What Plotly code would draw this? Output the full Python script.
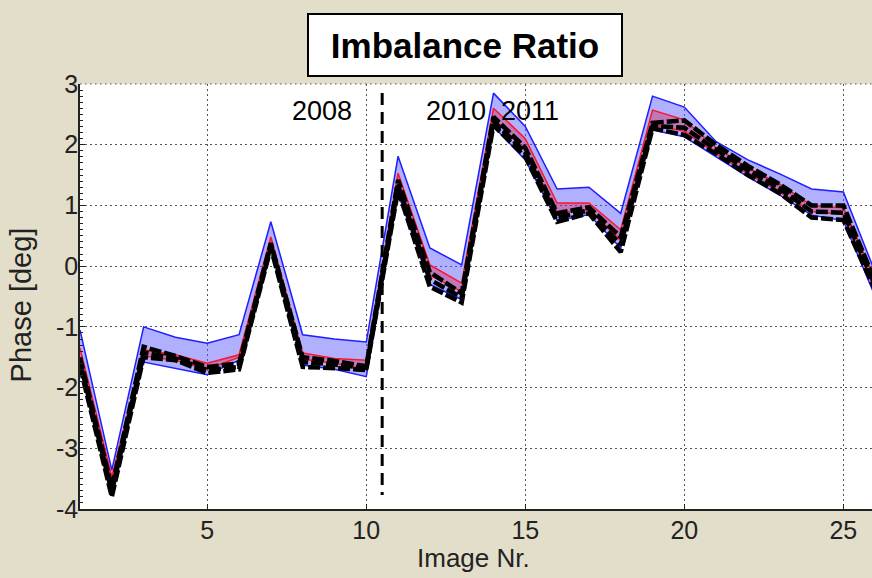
import plotly.graph_objects as go

# Image index (x axis)
image_nr = list(range(1, 27))

# Outer (blue) band limits, phase in degrees
blue_upper = [-1.05, -3.36, -1.00, -1.17, -1.27, -1.13, 0.73, -1.13, -1.20, -1.25,
              1.81, 0.30, 0.02, 2.85, 2.30, 1.27, 1.30, 0.87, 2.80, 2.62,
              2.05, 1.75, 1.52, 1.27, 1.22, -0.10]
blue_lower = [-1.65, -3.60, -1.58, -1.68, -1.79, -1.55, 0.30, -1.63, -1.70, -1.82,
              1.20, -0.30, -0.55, 2.30, 1.75, 0.75, 0.85, 0.30, 2.24, 2.13,
              1.80, 1.47, 1.17, 0.84, 0.75, -0.50]

# Inner (red) band limits
red_upper = [-1.35, -3.47, -1.38, -1.46, -1.60, -1.46, 0.48, -1.43, -1.52, -1.55,
             1.53, 0.02, -0.28, 2.60, 2.10, 1.04, 1.04, 0.60, 2.57, 2.41,
             1.95, 1.62, 1.35, 1.00, 0.96, -0.20]
red_lower = [-1.55, -3.55, -1.48, -1.55, -1.70, -1.50, 0.38, -1.53, -1.60, -1.70,
             1.35, -0.15, -0.42, 2.42, 1.90, 0.88, 0.92, 0.42, 2.33, 2.22,
             1.85, 1.52, 1.22, 0.90, 0.85, -0.40]

# Measured phase series (dashed black)
meas_a = [-1.50, -3.65, -1.33, -1.48, -1.66, -1.60, 0.38, -1.50, -1.56, -1.65,
          1.42, -0.10, -0.45, 2.46, 1.95, 0.87, 0.97, 0.48, 2.36, 2.40,
          2.00, 1.65, 1.35, 1.00, 1.00, -0.25]
meas_b = [-1.65, -3.80, -1.50, -1.55, -1.76, -1.70, 0.30, -1.66, -1.68, -1.71,
          1.25, -0.34, -0.60, 2.32, 1.80, 0.73, 0.87, 0.23, 2.27, 2.16,
          1.85, 1.50, 1.20, 0.80, 0.76, -0.40]
meas_c = [-1.58, -3.72, -1.42, -1.52, -1.71, -1.66, 0.34, -1.58, -1.62, -1.68,
          1.33, -0.22, -0.52, 2.39, 1.87, 0.80, 0.92, 0.35, 2.31, 2.28,
          1.92, 1.58, 1.28, 0.90, 0.88, -0.32]

# Separator between campaigns and the year labels
separator_x = [10.5, 10.5]
separator_y = [2.85, -3.77]
year_labels = ["2008", "2010", "2011"]
year_x = [8.61, 12.82, 15.15]
year_y = [2.55, 2.55, 2.55]

title_text = "Imbalance Ratio"
x_title = "Image Nr."
y_title = "Phase [deg]"
x_ticks = [5, 10, 15, 20, 25]
y_ticks = [-4, -3, -2, -1, 0, 1, 2, 3]
y_tick_text = ["-4", "-3", "-2", "-1", "0", "1", "2", "3"]

BG = "#E2DECA"
TEXT_COLOR = "#222"
TICK_FONT = dict(family="Liberation Sans Narrow, Liberation Sans, Arial", size=25, color=TEXT_COLOR)

fig = go.Figure()

# Blue band
fig.add_trace(go.Scatter(x=image_nr, y=blue_lower, mode="lines",
                         line=dict(color="rgb(30,30,255)", width=1.5), showlegend=False))
fig.add_trace(go.Scatter(x=image_nr, y=blue_upper, mode="lines", fill="tonexty",
                         fillcolor="rgba(80,80,255,0.45)",
                         line=dict(color="rgb(30,30,255)", width=1.5), showlegend=False))
# Red band
fig.add_trace(go.Scatter(x=image_nr, y=red_lower, mode="lines",
                         line=dict(color="rgb(255,20,40)", width=1.5), showlegend=False))
fig.add_trace(go.Scatter(x=image_nr, y=red_upper, mode="lines", fill="tonexty",
                         fillcolor="rgba(230,0,40,0.32)",
                         line=dict(color="rgb(255,20,40)", width=1.5), showlegend=False))
# Dashed measurement lines
for series in (meas_a, meas_c, meas_b):
    fig.add_trace(go.Scatter(x=image_nr, y=series, mode="lines",
                             line=dict(color="black", width=4.5, dash="12px,3px"),
                             showlegend=False))
# Vertical separator
fig.add_trace(go.Scatter(x=separator_x, y=separator_y, mode="lines",
                         line=dict(color="black", width=3, dash="12px,7px"),
                         showlegend=False))

for txt, xv, yv in zip(year_labels, year_x, year_y):
    fig.add_annotation(x=xv, y=yv, xref="x", yref="y", text=txt, showarrow=False,
                       xanchor="center", yanchor="middle",
                       font=dict(family="Liberation Sans, Arial", size=27, color="black"))

# Boxed title
fig.add_annotation(x=0.486, y=1.092, xref="paper", yref="paper", text="<b>" + title_text + "</b>",
                   showarrow=False, xanchor="center", yanchor="middle",
                   bgcolor="white", bordercolor="black", borderwidth=2,
                   borderpad=0, width=312, height=60,
                   font=dict(family="Liberation Sans, Arial", size=35, color="black"))

# Axis titles
fig.add_annotation(x=0.497, y=-0.115, xref="paper", yref="paper", text=x_title, showarrow=False,
                   xanchor="center", yanchor="middle",
                   font=dict(family="Liberation Sans Narrow, Liberation Sans, Arial", size=26,
                             color=TEXT_COLOR))
fig.add_annotation(x=-0.074, y=0.48, xref="paper", yref="paper", text=y_title, showarrow=False,
                   xanchor="center", yanchor="middle", textangle=-90,
                   font=dict(family="Liberation Sans, Arial", size=29, color=TEXT_COLOR))

# Dotted line along the top of the plot area
fig.add_shape(type="line", xref="paper", yref="paper", x0=0, x1=1, y0=1, y1=1,
              line=dict(color="#555", width=1.2, dash="1.5px,3.5px"))

grid = dict(showgrid=True, gridcolor="#555", gridwidth=1.2, griddash="1.5px,3.5px")

fig.update_xaxes(range=[1, 25.9], tickvals=x_ticks, ticks="inside", ticklen=5,
                 tickcolor=TEXT_COLOR, showline=True, linecolor=TEXT_COLOR, linewidth=1.5,
                 zeroline=False, tickfont=TICK_FONT, ticklabelstandoff=-2, **grid)
fig.update_yaxes(range=[-4, 3], tickvals=y_ticks, ticktext=y_tick_text, ticks="inside", ticklen=5,
                 tickcolor=TEXT_COLOR, showline=True, linecolor=TEXT_COLOR, linewidth=1.5,
                 zeroline=False, tickfont=TICK_FONT, ticklabelstandoff=-5,
                 minor=dict(dtick=0.1, ticks="inside", ticklen=3, tickcolor=TEXT_COLOR, showgrid=False),
                 **grid)

fig.update_layout(width=872, height=578, paper_bgcolor=BG, plot_bgcolor="white",
                  margin=dict(l=80, r=0, t=84, b=69), showlegend=False)

fig.write_html("out.html")
